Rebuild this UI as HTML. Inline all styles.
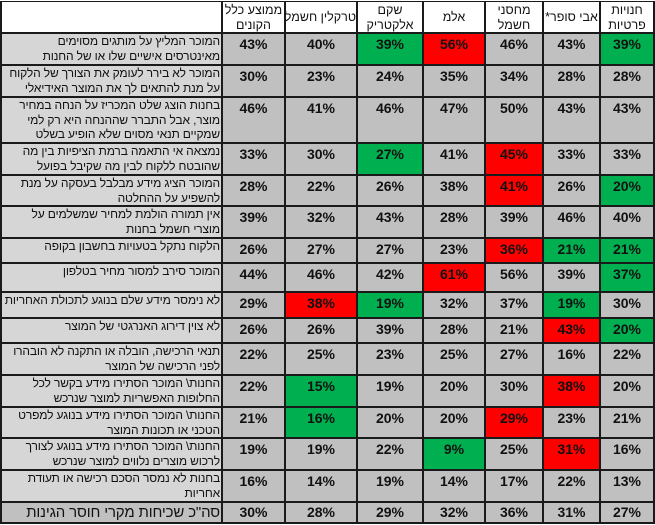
<!DOCTYPE html>
<html><head><meta charset="utf-8">
<style>
html,body{margin:0;padding:0;background:#fff;width:655px;height:525px;overflow:hidden;position:relative;font-family:"Liberation Sans",Arial,sans-serif}
#t{position:absolute;left:0;top:1px;width:655px;height:523px;background:#1a1a1a}
.r{position:absolute;left:0;width:655px}
.r>div{position:absolute;top:0;bottom:0;overflow:hidden}
.c0{left:2px;width:219px;background:#d6d6d6;direction:rtl;text-align:right;font-size:12px;letter-spacing:-0.15px;line-height:14.5px;color:#111;white-space:nowrap;padding-right:1px;box-sizing:border-box}
.c1{left:223px;width:61px}.c2{left:286px;width:70px}.c3{left:358px;width:64px}.c4{left:424px;width:60px}.c5{left:486px;width:56px}.c6{left:544px;width:55px}.c7{left:601px;width:52px}
.n{background:#c0c0c0;text-align:center;font-weight:bold;font-size:14px;line-height:16px;padding-top:2px;box-sizing:border-box;color:#111}
.g{background:#00b050}.x{background:#ff0000}
.h>div{background:#fff;text-align:center;font-size:12.5px;line-height:14.5px;direction:rtl;color:#111;box-sizing:border-box;padding-top:1px;white-space:nowrap}
.h .c0{background:#fff}
.s{padding-top:8px!important}
</style></head><body>
<div id="t">
<div class="r h" style="top:1px;height:30px"><div class="c0"></div><div class="c1">ממוצע כלל<br>הקונים</div><div class="c2 s">טרקלין חשמל</div><div class="c3">שקם<br>אלקטריק</div><div class="c4 s">אלמ</div><div class="c5">מחסני<br>חשמל</div><div class="c6 s">אבי סופר*</div><div class="c7">חנויות<br>פרטיות</div></div>
<div class="r" style="top:33px;height:30px"><div class="c0">המוכר המליץ על מותגים מסוימים<br>מאינטרסים אישיים שלו או של החנות</div><div class="c1 n">43%</div><div class="c2 n">40%</div><div class="c3 n g">39%</div><div class="c4 n x">56%</div><div class="c5 n">46%</div><div class="c6 n">43%</div><div class="c7 n g">39%</div></div>
<div class="r" style="top:65px;height:30px"><div class="c0">המוכר לא בירר לעומק את הצורך של הלקוח<br>על מנת להתאים לך את המוצר האידיאלי</div><div class="c1 n">30%</div><div class="c2 n">23%</div><div class="c3 n">24%</div><div class="c4 n">35%</div><div class="c5 n">34%</div><div class="c6 n">28%</div><div class="c7 n">28%</div></div>
<div class="r" style="top:97px;height:44px"><div class="c0">בחנות הוצג שלט המכריז על הנחה במחיר<br>מוצר, אבל התברר שההנחה היא רק למי<br>שמקיים תנאי מסוים שלא הופיע בשלט</div><div class="c1 n">46%</div><div class="c2 n">41%</div><div class="c3 n">46%</div><div class="c4 n">47%</div><div class="c5 n">50%</div><div class="c6 n">43%</div><div class="c7 n">43%</div></div>
<div class="r" style="top:143px;height:30px"><div class="c0">נמצאה אי התאמה ברמת הציפיות בין מה<br>שהובטח ללקוח לבין מה שקיבל בפועל</div><div class="c1 n">33%</div><div class="c2 n">30%</div><div class="c3 n g">27%</div><div class="c4 n">41%</div><div class="c5 n x">45%</div><div class="c6 n">33%</div><div class="c7 n">33%</div></div>
<div class="r" style="top:175px;height:29px"><div class="c0">המוכר הציג מידע מבלבל בעסקה על מנת<br>להשפיע על ההחלטה</div><div class="c1 n">28%</div><div class="c2 n">22%</div><div class="c3 n">26%</div><div class="c4 n">38%</div><div class="c5 n x">41%</div><div class="c6 n">26%</div><div class="c7 n g">20%</div></div>
<div class="r" style="top:206px;height:30px"><div class="c0">אין תמורה הולמת למחיר שמשלמים על<br>מוצרי חשמל בחנות</div><div class="c1 n">39%</div><div class="c2 n">32%</div><div class="c3 n">43%</div><div class="c4 n">28%</div><div class="c5 n">39%</div><div class="c6 n">46%</div><div class="c7 n">40%</div></div>
<div class="r" style="top:238px;height:23px"><div class="c0">הלקוח נתקל בטעויות בחשבון בקופה</div><div class="c1 n">26%</div><div class="c2 n">27%</div><div class="c3 n">27%</div><div class="c4 n">23%</div><div class="c5 n x">36%</div><div class="c6 n g">21%</div><div class="c7 n g">21%</div></div>
<div class="r" style="top:263px;height:27px"><div class="c0">המוכר סירב למסור מחיר בטלפון</div><div class="c1 n">44%</div><div class="c2 n">46%</div><div class="c3 n">42%</div><div class="c4 n x">61%</div><div class="c5 n">56%</div><div class="c6 n">39%</div><div class="c7 n g">37%</div></div>
<div class="r" style="top:292px;height:24px"><div class="c0">לא נימסר מידע שלם בנוגע לתכולת האחריות</div><div class="c1 n">29%</div><div class="c2 n x">38%</div><div class="c3 n g">19%</div><div class="c4 n">32%</div><div class="c5 n">37%</div><div class="c6 n g">19%</div><div class="c7 n">30%</div></div>
<div class="r" style="top:318px;height:23px"><div class="c0">לא צוין דירוג האנרגטי של המוצר</div><div class="c1 n">26%</div><div class="c2 n">26%</div><div class="c3 n">39%</div><div class="c4 n">28%</div><div class="c5 n">21%</div><div class="c6 n x">43%</div><div class="c7 n g">20%</div></div>
<div class="r" style="top:343px;height:30px"><div class="c0">תנאי הרכישה, הובלה או התקנה לא הובהרו<br>לפני הרכישה של המוצר</div><div class="c1 n">22%</div><div class="c2 n">25%</div><div class="c3 n">23%</div><div class="c4 n">25%</div><div class="c5 n">27%</div><div class="c6 n">16%</div><div class="c7 n">22%</div></div>
<div class="r" style="top:375px;height:30px"><div class="c0">החנות\ המוכר הסתירו מידע בקשר לכל<br>החלופות האפשריות למוצר שנרכש</div><div class="c1 n">22%</div><div class="c2 n g">15%</div><div class="c3 n">19%</div><div class="c4 n">20%</div><div class="c5 n">30%</div><div class="c6 n x">38%</div><div class="c7 n">20%</div></div>
<div class="r" style="top:407px;height:29px"><div class="c0">החנות\ המוכר הסתירו מידע בנוגע למפרט<br>הטכני או תכונות המוצר</div><div class="c1 n">21%</div><div class="c2 n g">16%</div><div class="c3 n">20%</div><div class="c4 n">20%</div><div class="c5 n x">29%</div><div class="c6 n">23%</div><div class="c7 n">21%</div></div>
<div class="r" style="top:438px;height:30px"><div class="c0">החנות\ המוכר הסתירו מידע בנוגע לצורך<br>לרכוש מוצרים נלווים למוצר שנרכש</div><div class="c1 n">19%</div><div class="c2 n">19%</div><div class="c3 n">22%</div><div class="c4 n g">9%</div><div class="c5 n">25%</div><div class="c6 n x">31%</div><div class="c7 n">16%</div></div>
<div class="r" style="top:470px;height:30px"><div class="c0">בחנות לא נמסר הסכם רכישה או תעודת<br>אחריות</div><div class="c1 n">16%</div><div class="c2 n">14%</div><div class="c3 n">19%</div><div class="c4 n">14%</div><div class="c5 n">17%</div><div class="c6 n">22%</div><div class="c7 n">13%</div></div>
<div class="r" style="top:502px;height:19px"><div class="c0" style="background:#c0c0c0;font-size:15px;line-height:19px">סה"כ שכיחות מקרי חוסר הגינות</div><div class="c1 n" style="padding-top:1px">30%</div><div class="c2 n" style="padding-top:1px">28%</div><div class="c3 n" style="padding-top:1px">29%</div><div class="c4 n" style="padding-top:1px">32%</div><div class="c5 n" style="padding-top:1px">36%</div><div class="c6 n" style="padding-top:1px">31%</div><div class="c7 n" style="padding-top:1px">27%</div></div>
</div>
</body></html>
